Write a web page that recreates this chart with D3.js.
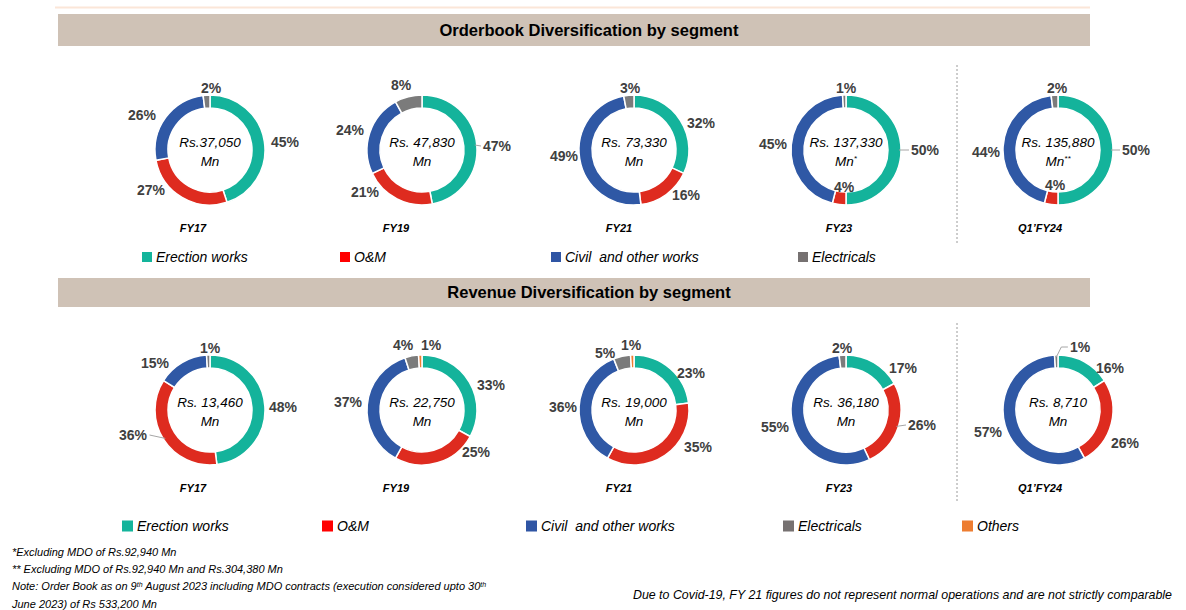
<!DOCTYPE html>
<html>
<head>
<meta charset="utf-8">
<title>Orderbook and Revenue Diversification by segment</title>
<script src="https://cdn.jsdelivr.net/npm/d3@7"></script>
<style>
  body { margin: 0; background: #fff; }
  svg { display: block; font-family: "Liberation Sans", Arial, sans-serif; }
  text { white-space: pre; }
</style>
</head>
<body>
<script>
// ---- data ----
const segments = ["Erection works", "O&M", "Civil  and other works", "Electricals", "Others"];
const periods = ["FY17", "FY19", "FY21", "FY23", "Q1\u2019FY24"];

const orderbookTotals = ["Rs.37,050", "Rs. 47,830", "Rs. 73,330", "Rs. 137,330", "Rs. 135,880"];
const orderbookMarks = ["", "", "", "*", "**"];
const orderbookShares = [
  [45, 27, 26, 2, 0],
  [47, 21, 24, 8, 0],
  [32, 16, 49, 3, 0],
  [50, 4, 45, 1, 0],
  [50, 4, 44, 2, 0]
];

const revenueTotals = ["Rs. 13,460", "Rs. 22,750", "Rs. 19,000", "Rs. 36,180", "Rs. 8,710"];
const revenueMarks = ["", "", "", "", ""];
const revenueShares = [
  [48, 36, 15, 1, 0],
  [33, 25, 37, 4, 1],
  [23, 35, 36, 5, 1],
  [17, 26, 55, 2, 0],
  [16, 26, 57, 1, 0]
];

const footnotes = [
  [["*Excluding MDO of Rs.92,940 Mn"]],
  [["** Excluding MDO of Rs.92,940 Mn and Rs.304,380 Mn"]],
  [["Note: Order Book as on 9"], ["th", true], [" August 2023 including MDO contracts (execution considered upto 30"], ["th", true]],
  [["June 2023) of Rs 533,200 Mn"]]
];
const sideNote = "Due to Covid-19, FY 21 figures do not represent normal operations and are not strictly comparable";

// ---- styling / layout ----
const ringColors = ["#14b39b", "#de2b1f", "#2f58a5", "#7b7b7b", "#ed7d31"];
const keyColors = ["#13b49b", "#ff0000", "#2f55a4", "#767171", "#ed7d31"];

// label offsets from each donut's centre [dx, dy, leader?]
const orderbookLabelPos = [
  [[75, -8], [-59, 40], [-68, -35], [1, -62]],
  [[75, -4, true], [-57, 42], [-72, -20], [-21, -65]],
  [[67, -27], [52, 45], [-70, 6], [-4, -62]],
  [[79, 0, true], [-2, 37], [-73, -6], [0, -62]],
  [[78, 0, true], [-3, 35], [-72, 2], [-1, -62]]
];
const revenueLabelPos = [
  [[73, -3], [-77, 25, true], [-55, -47], [0, -62]],
  [[69, -25], [54, 42], [-74, -8], [-19, -65], [9, -65]],
  [[57, -37], [64, 37], [-71, -3], [-29, -57], [-3, -65]],
  [[57, -42], [76, 15, true], [-71, 17], [-4, -62]],
  [[52, -42], [67, 33], [-70, 22], [22, -63, true]]
];
const yearDx = [-17, -26, -15, -7, -18];

const width = 1186, height = 610;
const svg = d3.select("body").append("svg")
  .attr("width", width)
  .attr("height", height);

// faint rule at the top of the slide
svg.append("line")
  .attr("x1", 55).attr("x2", 1090)
  .attr("y1", 7.5).attr("y2", 7.5)
  .attr("stroke", "#fbe6d8").attr("stroke-width", 2);

// section bands
const bands = [
  { y: 14, h: 32, title: "Orderbook Diversification by segment" },
  { y: 278, h: 29, title: "Revenue Diversification by segment" }
];
bands.forEach(b => {
  svg.append("rect")
    .attr("x", 58).attr("y", b.y)
    .attr("width", 1032).attr("height", b.h)
    .attr("fill", "#cfc2b6");
  svg.append("text")
    .attr("x", 589).attr("y", b.y + b.h / 2)
    .attr("dy", "0.35em")
    .attr("text-anchor", "middle")
    .attr("font-size", 16.5).attr("font-weight", "bold")
    .attr("fill", "#000")
    .text(b.title);
});

// dashed separators before the Q1 column
[[65, 243], [323, 503]].forEach(([y1, y2]) => {
  svg.append("line")
    .attr("x1", 957).attr("x2", 957)
    .attr("y1", y1).attr("y2", y2)
    .attr("stroke", "#9a9a9a").attr("stroke-width", 1)
    .attr("stroke-dasharray", "2,2");
});

const x = d3.scalePoint().domain(periods).range([210, 1058]);
const R = 55, r = 42;
const arc = d3.arc().innerRadius(r).outerRadius(R);
const pie = d3.pie().sort(null).value(d => d);

function drawRow(shares, totals, marks, labelPos, cy) {
  periods.forEach((p, i) => {
    const g = svg.append("g").attr("transform", `translate(${x(p)},${cy})`);
    const arcs = pie(shares[i]).filter(a => a.data > 0);

    g.selectAll("path.slice")
      .data(arcs)
      .join("path")
      .attr("class", "slice")
      .attr("d", arc)
      .attr("fill", d => ringColors[d.index])
      .attr("stroke", "#fff")
      .attr("stroke-width", 1.5);

    arcs.forEach(d => {
      const pos = labelPos[i][d.index];
      const t = g.append("text")
        .attr("x", pos[0]).attr("y", pos[1])
        .attr("dy", "0.35em")
        .attr("text-anchor", "middle")
        .attr("font-size", 14).attr("font-weight", "bold")
        .attr("fill", "#404040")
        .text(d.data + "%");
      if (pos[2]) {
        const bb = t.node().getBBox();
        const a = (d.startAngle + d.endAngle) / 2;
        const px = (R - 2) * Math.sin(a), py = -(R - 2) * Math.cos(a);
        const ex = pos[0] > 0 ? bb.x - 2 : bb.x + bb.width + 2;
        const sgn = ex > px ? 1 : -1;
        const path = Math.abs(py - pos[1]) > 4
          ? `M${px},${py}L${px + sgn * 5},${pos[1]}L${ex},${pos[1]}`
          : `M${px},${py}L${ex},${pos[1]}`;
        g.append("path")
          .attr("d", path)
          .attr("fill", "none")
          .attr("stroke", "#a6a6a6").attr("stroke-width", 1);
      }
    });

    // centre total
    g.append("text")
      .attr("y", -8).attr("dy", "0.35em")
      .attr("text-anchor", "middle")
      .attr("font-size", 13.5).attr("font-style", "italic")
      .attr("fill", "#000")
      .text(totals[i]);
    const mn = g.append("text")
      .attr("y", 11).attr("dy", "0.35em")
      .attr("text-anchor", "middle")
      .attr("font-size", 13.5).attr("font-style", "italic")
      .attr("fill", "#000");
    mn.append("tspan").text("Mn");
    if (marks[i]) {
      mn.append("tspan")
        .attr("font-size", 8).attr("dy", "-0.6em")
        .text(marks[i]);
    }

    // period label
    g.append("text")
      .attr("x", yearDx[i]).attr("y", 78)
      .attr("dy", "0.35em")
      .attr("text-anchor", "middle")
      .attr("font-size", 11).attr("font-weight", "bold").attr("font-style", "italic")
      .attr("fill", "#000")
      .text(p);
  });
}

drawRow(orderbookShares, orderbookTotals, orderbookMarks, orderbookLabelPos, 150);
drawRow(revenueShares, revenueTotals, revenueMarks, revenueLabelPos, 410);

// legends
function drawLegend(items, xs, y, size) {
  items.forEach((idx, k) => {
    svg.append("rect")
      .attr("x", xs[k]).attr("y", y - size / 2)
      .attr("width", size).attr("height", size)
      .attr("fill", keyColors[idx]);
    svg.append("text")
      .attr("x", xs[k] + size + 4).attr("y", y)
      .attr("dy", "0.35em")
      .attr("font-size", 14).attr("font-style", "italic")
      .attr("fill", "#000")
      .text(segments[idx]);
  });
}
drawLegend([0, 1, 2, 3], [142, 340, 551, 798], 257, 10);
drawLegend([0, 1, 2, 3, 4], [122, 322, 526, 783, 962], 526, 11);

// footnotes
const fn = svg.append("g")
  .attr("font-size", 11).attr("font-style", "italic")
  .attr("fill", "#000");
footnotes.forEach((parts, k) => {
  const t = fn.append("text")
    .attr("x", 12).attr("y", 552 + k * 17.3)
    .attr("dy", "0.35em");
  parts.forEach(([s, sup]) => {
    const ts = t.append("tspan").text(s);
    if (sup) ts.attr("font-size", 7).attr("baseline-shift", "super");
  });
});
svg.append("text")
  .attr("x", 1172).attr("y", 595)
  .attr("dy", "0.35em")
  .attr("text-anchor", "end")
  .attr("font-size", 12.4).attr("font-style", "italic")
  .attr("fill", "#000")
  .text(sideNote);
</script>
</body>
</html>
